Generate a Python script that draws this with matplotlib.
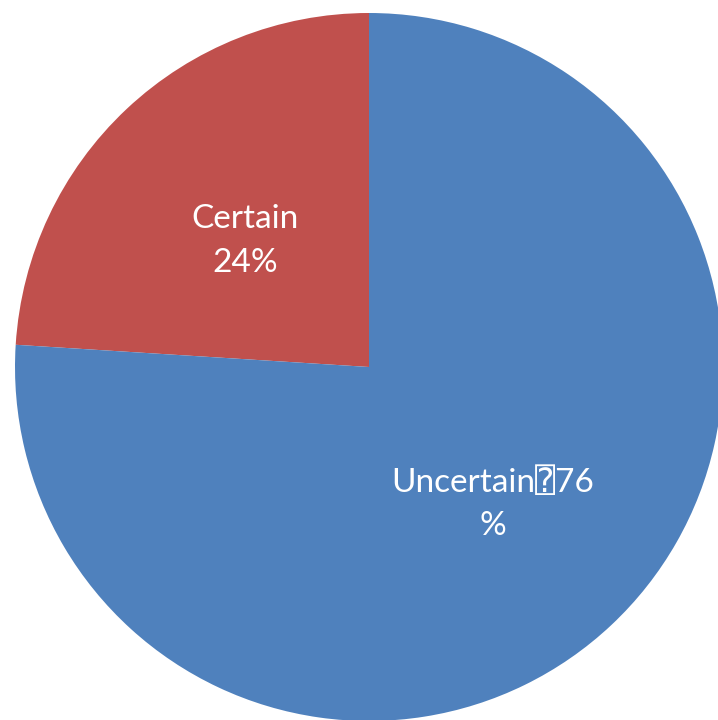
import matplotlib
matplotlib.use("Agg")
import matplotlib.pyplot as plt

# Share of responses
categories = ["Certain", "Uncertain"]
values = [24, 76]
label_texts = ["Certain\n24%", "Uncertain\u237076\n%"]
colors = ["#C0504D", "#4F81BD"]

W, H = 718, 720
fig = plt.figure(figsize=(W / 100, H / 100), dpi=100)

# pie centre and radius in pixels
cx, cy, r = 369, 720 - 367, 354
ax = fig.add_axes([(cx - r) / W, (cy - r) / H, 2 * r / W, 2 * r / H])

labels_iter = iter(label_texts)
wedges, _, autotexts = ax.pie(
    values,
    colors=colors,
    startangle=90,
    counterclock=True,
    autopct=lambda p: next(labels_iter),
    pctdistance=0.51,
    textprops=dict(color="white", fontsize=24,
                   family=["Lato", "DejaVu Sans", "DejaVu Sans Mono"],
                   linespacing=1.55),
    wedgeprops=dict(linewidth=0),
)
# nudge the labels down a little
for t in autotexts:
    x, y = t.get_position()
    t.set_position((x, y - 0.016))

ax.set_xlim(-1, 1)
ax.set_ylim(-1, 1)
ax.set_aspect("equal")

fig.savefig("out.png", dpi=100)
